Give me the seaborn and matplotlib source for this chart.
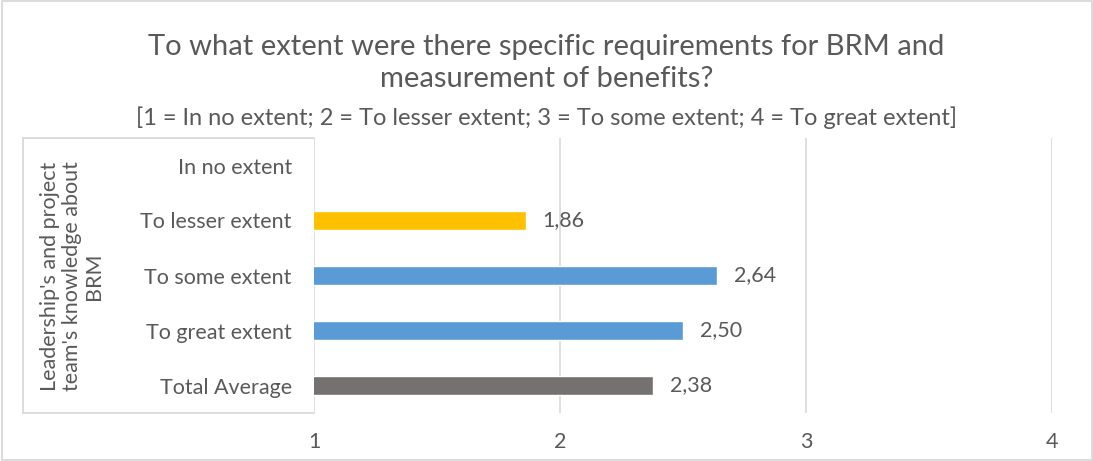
import numpy as np
import pandas as pd
import seaborn as sns
import matplotlib
matplotlib.use("Agg")
import matplotlib.pyplot as plt
from matplotlib.patches import Rectangle

# Survey answers: mean score per answer group (no answers in the first group)
categories = ["In no extent", "To lesser extent", "To some extent", "To great extent", "Total Average"]
scores = [np.nan, 1.86, 2.64, 2.50, 2.38]
bar_colors = ["#5B9BD5", "#FFC000", "#5B9BD5", "#5B9BD5", "#767171"]
x_ticks = [1, 2, 3, 4]
group_label = "Leadership's and project\nteam's knowledge about\nBRM"
title_lines = ["To what extent were there specific requirements for BRM and",
               "measurement of benefits?"]
subtitle = "[1 = In no extent; 2 = To lesser extent; 3 = To some extent; 4 = To great extent]"

sns.set_theme(style="white")
plt.rcParams["font.family"] = ["Lato", "DejaVu Sans"]

TEXT = "#595959"
GRID = "#D9D9D9"
W, H = 1093, 461

# empty groups keep their row but draw no bar
df = pd.DataFrame({"category": categories, "score": pd.Series(scores).fillna(0.0)})

fig = plt.figure(figsize=(W / 100, H / 100), dpi=100)
left, right, top, bottom = 314, 1052, 138, 413
ax = fig.add_axes([left / W, 1 - bottom / H, (right - left) / W, (bottom - top) / H])

sns.barplot(data=df, x="score", y="category", hue="category", order=categories,
            hue_order=categories, palette=dict(zip(categories, bar_colors)),
            orient="h", width=0.36, legend=False, ax=ax, saturation=1)

ax.set_xlim(1, 4)
ax.set_ylim(len(categories) - 0.5, -0.5)
ax.set_xticks(x_ticks)
ax.set_xticklabels([str(t) for t in x_ticks])
ax.set_xlabel("")
ax.set_ylabel("")
ax.grid(axis="x", color=GRID, linewidth=1.2)
ax.set_axisbelow(True)
for s in ax.spines.values():
    s.set_visible(False)
ax.tick_params(axis="x", length=0, pad=14, labelsize=15.5, labelcolor=TEXT)
ax.tick_params(axis="y", length=0, pad=16, labelsize=15.5, labelcolor=TEXT)

# value labels with decimal comma
for cont in ax.containers:
    vals = [b.get_width() for b in cont]
    labs = ["" if not np.isfinite(v) or v == 0 else f"{v:.2f}".replace(".", ",") for v in vals]
    ax.bar_label(cont, labels=labs, padding=12, fontsize=15.5, color=TEXT)

# multi-level category box on the left
bx = (23 - left) / (right - left)
for xs, ys in [([bx, bx], [0, 1]), ([bx, 0], [1, 1]), ([bx, 0], [0, 0])]:
    ax.plot(xs, ys, transform=ax.transAxes, color=GRID, lw=1.3, clip_on=False)
fig.text(72 / W, 1 - 276 / H, group_label, rotation=90, ha="center", va="center",
         multialignment="center", fontsize=15.5, color=TEXT, linespacing=1.15)

# titles
fig.text(0.5, 1 - 47 / H, title_lines[0], ha="center", va="center", fontsize=21, color=TEXT)
fig.text(0.5, 1 - 79 / H, title_lines[1], ha="center", va="center", fontsize=21, color=TEXT)
fig.text(0.5, 1 - 118 / H, subtitle, ha="center", va="center", fontsize=17, color=TEXT)

# chart border
fig.patches.append(Rectangle((1.5 / W, 1.5 / H), 1 - 3 / W, 1 - 3 / H, transform=fig.transFigure,
                             fill=False, edgecolor=GRID, lw=1.3))

fig.savefig("out.png", dpi=100)
